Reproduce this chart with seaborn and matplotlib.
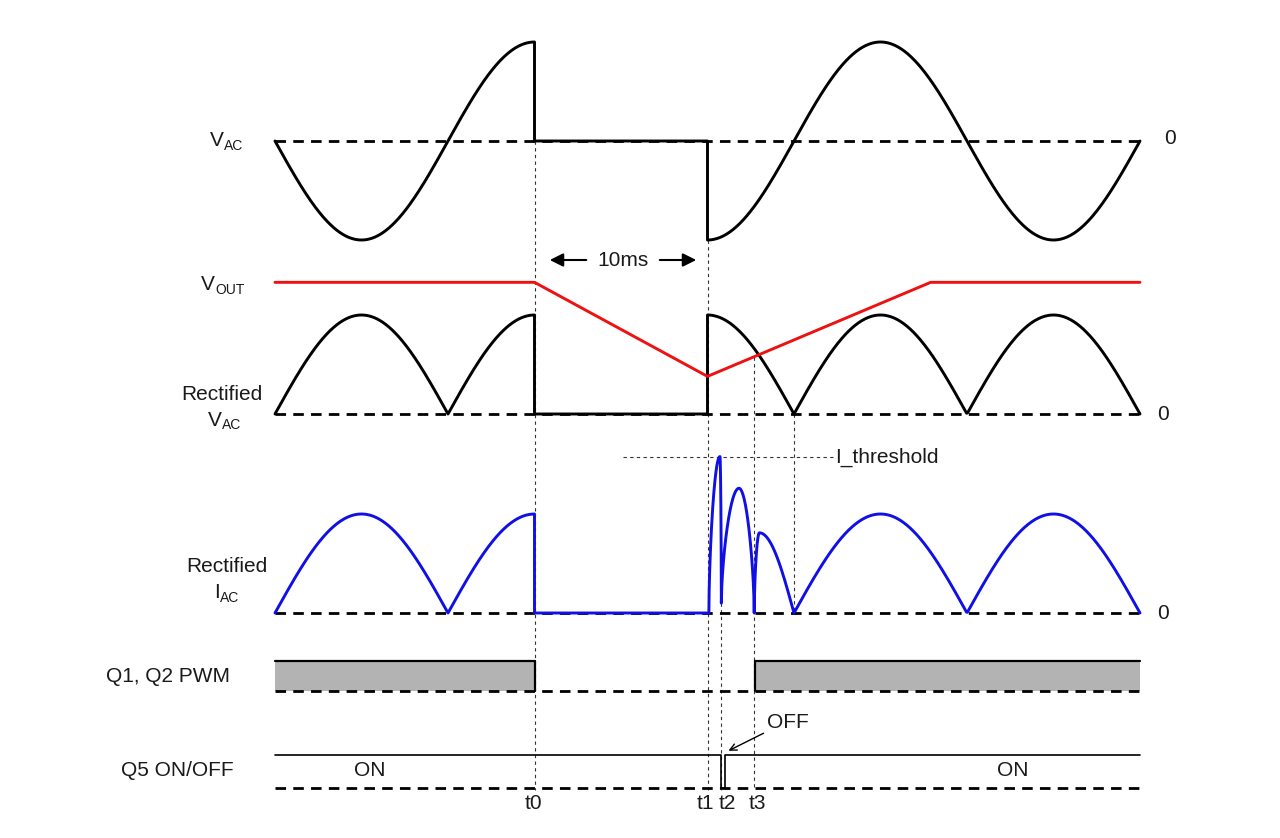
import numpy as np
import pandas as pd
import matplotlib
matplotlib.use("Agg")
import matplotlib.pyplot as plt
import seaborn as sns

# ---- timing events (ms) (10 ms between t0 and t1)
period_ms = 20.0
t_end = 50.0
t0, t1, t2, t3 = 15.0, 25.0, 25.8, 27.7
t_zero_after = 30.0          # first rectified zero after the dropout
q5_off = [25.77, 26.02]      # short Q5 OFF pulse around t2
pwm_on = [(0.0, t0), (27.75, t_end)]
event_names = ["t0", "t1", "t2", "t3"]

# ---- levels in units of the AC peak
vout_t = [0.0, t0, t1, 37.9, t_end]
vout_v = [1.33, 1.33, 0.38, 1.33, 1.33]
i_threshold = 1.58

# inrush humps after t1
hump_start = [25.08, 25.8, 27.7]
hump_peak_t = [25.72, 26.82, 28.0]
hump_end = [25.8, 27.7, 30.0]
hump_peak = [1.58, 1.26, 0.81]
hump_start_level = [0.0, 0.10, 0.0]
hump_end_level = [0.10, 0.0, 0.0]

# ---- layout (pixels)
W, H = 1280, 838
X0, PX_MS = 275, 17.3
AMP = 99
Y_VAC, Y_RECT, Y_IAC = 141, 414, 613
Y_PWM_LO, Y_PWM_HI = 691, 661
Y_Q5_LO, Y_Q5_HI = 788, 755
TXT = "#1a1a1a"


def ms(xpx):
    return (xpx - X0) / PX_MS


def sine_part(a, b, rectify=False, n=400):
    t = np.linspace(a, b, n)
    v = -np.sin(2 * np.pi * t / period_ms)
    return t, (np.abs(v) if rectify else v)


def build_humps():
    ts, vs = [], []
    for i, (s, p, e, a, l0, l1) in enumerate(zip(hump_start, hump_peak_t, hump_end,
                                                 hump_peak, hump_start_level,
                                                 hump_end_level)):
        u = np.linspace(0, 1, 80)
        ts.append(s + (p - s) * u)
        vs.append(l0 + (a - l0) * np.sin(np.pi / 2 * u) ** 0.6)
        ts.append(p + (e - p) * u)
        fall = np.cos(np.pi / 2 * u)
        if i < 2:
            fall = fall ** 0.6
        vs.append(l1 + (a - l1) * fall)
    return np.concatenate(ts), np.concatenate(vs)


sns.set_theme(style="white")
plt.rcParams["font.family"] = ["Liberation Sans", "DejaVu Sans"]

fig = plt.figure(figsize=(W / 100, H / 100), dpi=100)
ax = fig.add_axes([0, 0, 1, 1])
ax.set_xlim(ms(0), ms(W))
ax.set_ylim(H, 0)
ax.axis("off")


def draw(t, v, base, color="black", lw=2.1, z=3):
    df = pd.DataFrame({"t": t, "y": base - AMP * np.asarray(v)})
    sns.lineplot(data=df, x="t", y="y", estimator=None, sort=False,
                 color=color, lw=lw, ax=ax, zorder=z, legend=False)


def label(xp, yp, s, size=15, **kw):
    kw.setdefault("ha", "center")
    kw.setdefault("va", "center")
    fig.text(xp / W, 1 - yp / H, s, fontsize=size, color=TXT, **kw)


# ---- guide lines (dotted)
dot = dict(color="#333333", lw=0.8, ls=(0, (3, 3)), zorder=1)
vout_at_t3 = np.interp(t3, vout_t, vout_v)
guides = [(t0, Y_VAC, 790), (t1, Y_VAC + AMP, 790), (t2, Y_IAC - 10, 790),
          (t3, Y_RECT - AMP * vout_at_t3, 790), (t_zero_after, Y_RECT, Y_IAC)]
for gx, y_a, y_b in guides:
    ax.plot([gx, gx], [y_a, y_b], **dot)
ax.plot([ms(623), ms(835)], [Y_IAC - AMP * i_threshold] * 2, **dot)

# ---- dashed zero lines
for base in [Y_VAC, Y_RECT, Y_IAC, Y_PWM_LO, Y_Q5_LO]:
    ax.plot([0, t_end], [base, base], color="black", lw=2.0,
            ls=(0, (3.8, 2.6)), zorder=2)

# ---- V_AC
ta, va = sine_part(0, t0)
tb, vb = sine_part(t1, t_end)
draw(np.r_[ta, t0, t1, tb], np.r_[va, 0, 0, vb], Y_VAC)

# ---- rectified V_AC
ta, va = sine_part(0, t0, True)
tb, vb = sine_part(t1, t_end, True)
draw(np.r_[ta, t0, t1, tb], np.r_[va, 0, 0, vb], Y_RECT)

# ---- V_OUT
draw(vout_t, vout_v, Y_RECT, color="#ee1111", z=4)

# ---- rectified I_AC
ta, va = sine_part(0, t0, True)
th, vh = build_humps()
tb, vb = sine_part(t_zero_after, t_end, True)
draw(np.r_[ta, t0, hump_start[0], th, tb], np.r_[va, 0, 0, vh, vb],
     Y_IAC, color="#1010e6")

# ---- Q1, Q2 PWM
for a, b in pwm_on:
    ax.fill_between([a, b], Y_PWM_LO, Y_PWM_HI, color="#b3b3b3", lw=0, zorder=1)
    ax.plot([a, b], [Y_PWM_HI, Y_PWM_HI], color="black", lw=1.6, zorder=3)
    for e in (a, b):
        if 0 < e < t_end:
            ax.plot([e, e], [Y_PWM_HI, Y_PWM_LO], color="black", lw=1.6, zorder=3)

# ---- Q5 ON/OFF
q5_t = [0, q5_off[0], q5_off[0], q5_off[1], q5_off[1], t_end]
q5_v = [1, 1, 0, 0, 1, 1]
ax.plot(q5_t, [Y_Q5_LO - (Y_Q5_LO - Y_Q5_HI) * v for v in q5_v],
        color="black", lw=1.2, zorder=3)

# ---- row labels
label(224, 140, "V", ha="right")
label(224, 146, "AC", size=10, ha="left")
label(215, 284, "V", ha="right")
label(215, 290, "OUT", size=10, ha="left")
label(222, 394, "Rectified")
label(222, 420, "V", ha="right")
label(222, 425, "AC", size=10, ha="left")
label(227, 567, "Rectified")
label(220, 593, "I", ha="right")
label(220, 598, "AC", size=10, ha="left")
label(168, 676, "Q1, Q2 PWM")
label(177, 771, "Q5 ON/OFF")

for yp, xp in [(139, 1170), (414, 1163), (613, 1163)]:
    label(xp, yp, "0")

label(835, 457, "I_threshold", ha="left")
label(370, 771, "ON")
label(1013, 771, "ON")
label(788, 722, "OFF")

for name, xp in zip(event_names, [533, 705, 727, 757]):
    label(xp, 803, name)

# ---- 10 ms span arrows
label(623, 260, "10ms")
arr = dict(arrowstyle="-|>", color="black", lw=1.5, mutation_scale=20)
ax.annotate("", xy=(ms(547), 260), xytext=(ms(589), 260), arrowprops=arr)
ax.annotate("", xy=(ms(699), 260), xytext=(ms(657), 260), arrowprops=arr)

# ---- OFF pointer
ax.annotate("", xy=(ms(726), 752), xytext=(ms(766), 732),
            arrowprops=dict(arrowstyle="->", color="black", lw=1.0,
                            mutation_scale=12))

fig.savefig("out.png", dpi=100)
